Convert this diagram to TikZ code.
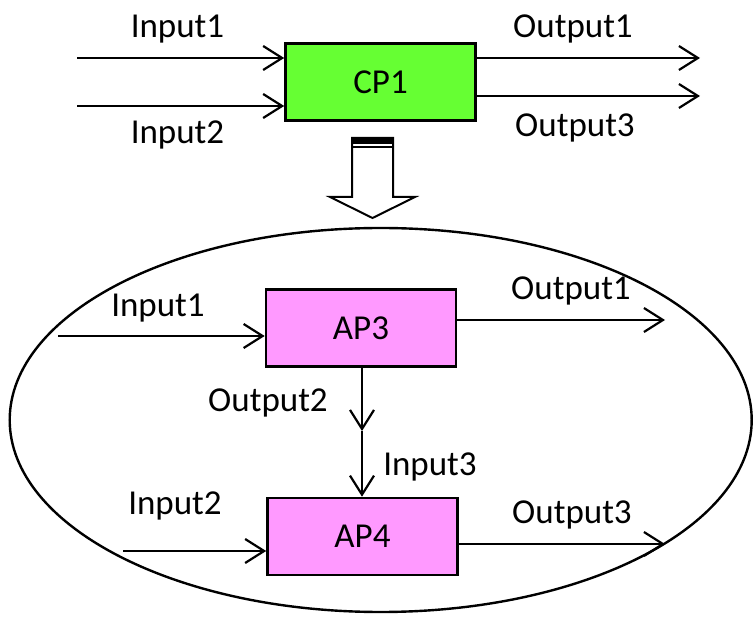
\documentclass[tikz,border=0pt]{standalone}
\usepackage{fontspec}
\setmainfont{Carlito}
\usetikzlibrary{arrows.meta}
\definecolor{cpgreen}{HTML}{66FF33}
\definecolor{appink}{HTML}{FF99FF}
\begin{document}
\begin{tikzpicture}[x=1pt,y=-1pt,
  font=\fontsize{35}{42}\selectfont,
  proc/.style={draw=black, line width=2.6pt, minimum width=190pt, minimum height=77pt, inner sep=0pt},
  flow/.style={line width=2.2pt, -{Straight Barb[length=19pt,width=24pt]}},
  lbl/.style={anchor=base, inner sep=0pt},
]
\useasboundingbox (0,0) rectangle (753,617);

% composite process
\node[proc, fill=cpgreen] (cp1) at (380.5,82) {CP1};
\coordinate (in1) at (77,58);
\coordinate (in2) at (77,106);
\coordinate (out1) at (700,58);
\coordinate (out3) at (700,96);
\draw[flow] (in1) -- (in1 -| cp1.west);
\draw[flow] (in2) -- (in2 -| cp1.west);
\draw[flow] (out1 -| cp1.east) -- (out1);
\draw[flow] (out3 -| cp1.east) -- (out3);
\node[lbl] (tin1) at (177.5,37.3) {Input1};
\node[lbl] (tin2) at (177.5,144) {Input2};
\node[lbl] (tout1) at (573,37.7) {Output1};
\node[lbl] (tout3) at (575,136.7) {Output3};

% striped block arrow (refinement)
\draw[line width=2pt, fill=white, line join=miter]
  (352,138) -- (352,197) -- (330,197) -- (372.5,218) -- (415,197)
  -- (393,197) -- (393,138) -- cycle;
\fill (352,137) rectangle (393,144);
\draw[line width=2pt] (352,147.5) -- (393,147.5);

% decomposition
\draw[line width=2.4pt] (380.7,420) ellipse [x radius=371, y radius=192];
\node[proc, fill=appink] (ap3) at (361,328) {AP3};
\node[proc, fill=appink] (ap4) at (362.5,536.5) {AP4};

\coordinate (a1) at (58,336);
\coordinate (b1) at (665,320);
\coordinate (mid) at (362,431);
\coordinate (a2) at (123,551);
\coordinate (b3) at (665,544);
\draw[flow] (a1) -- (a1 -| ap3.west);
\draw[flow] (b1 -| ap3.east) -- (b1);
\draw[flow] (ap3.south -| mid) -- (mid);
\draw[flow] (mid) -- (mid |- ap4.north);
\draw[flow] (a2) -- (a2 -| ap4.west);
\draw[flow] (b3 -| ap4.east) -- (b3);

\node[lbl] (sin1) at (158,316.7) {Input1};
\node[lbl] (sout1) at (571,300) {Output1};
\node[lbl] (sout2) at (268,412) {Output2};
\node[lbl] (sin3) at (430,476) {Input3};
\node[lbl] (sin2) at (175,515) {Input2};
\node[lbl] (sout3) at (572,524) {Output3};
\end{tikzpicture}
\end{document}
